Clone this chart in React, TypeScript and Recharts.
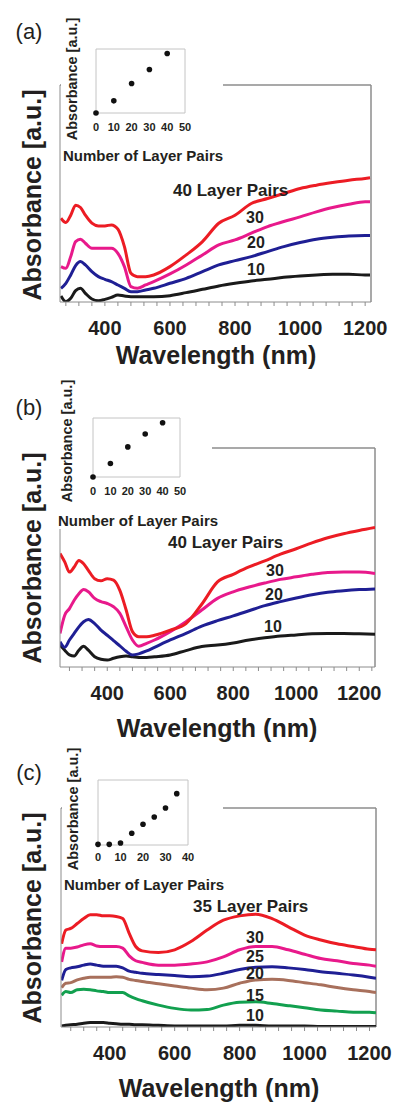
import {
  LineChart,
  Line,
  XAxis,
  YAxis,
  ReferenceLine,
  ReferenceArea,
  ScatterChart,
  Scatter,
} from "recharts"

const FONT = '"Liberation Sans", Arial, Helvetica, sans-serif'
const INK = "#231f20"
const AXIS = "#8c8c8c"

const RED = "#ec1c24"
const PINK = "#e8198b"
const BLUE = "#1f1f94"
const BLACK = "#1a1a1a"
const BROWN = "#a8705c"
const GREEN = "#12a04f"

// shared wavelength ticks (minor every 40 nm, labels every 200 nm)
const xTicks = [280, 320, 360, 400, 440, 480, 520, 560, 600, 640, 680, 720, 760, 800, 840, 880, 920, 960, 1000, 1040, 1080, 1120, 1160, 1200, 1240]

// ---- panel (a)
const wavelengthsA = [265, 280, 295, 310, 325, 340, 360, 380, 400, 420, 440, 460, 480, 500, 525, 550, 600, 650, 700, 750, 800, 850, 900, 950, 1000, 1050, 1100, 1150, 1200, 1215]
const a40 = [2.51, 2.38, 2.6, 2.9, 2.83, 2.6, 2.36, 2.28, 2.28, 2.31, 2.18, 1.66, 0.86, 0.76, 0.76, 0.81, 1.06, 1.41, 1.81, 2.36, 2.6, 2.95, 3.1, 3.25, 3.4, 3.5, 3.58, 3.65, 3.7, 3.72]
const a30 = [1.06, 1.01, 1.36, 1.81, 1.88, 1.76, 1.61, 1.61, 1.61, 1.61, 1.46, 1.06, 0.46, 0.41, 0.51, 0.61, 0.84, 1.11, 1.41, 1.71, 1.86, 2.06, 2.26, 2.41, 2.55, 2.7, 2.83, 2.93, 3.0, 3.0]
const a20 = [0.41, 0.56, 0.81, 1.09, 1.21, 1.11, 0.91, 0.76, 0.68, 0.61, 0.51, 0.41, 0.31, 0.31, 0.36, 0.41, 0.56, 0.71, 0.91, 1.11, 1.24, 1.36, 1.51, 1.66, 1.78, 1.88, 1.94, 1.98, 1.99, 1.99]
const a10 = [0.18, 0.01, 0.11, 0.34, 0.41, 0.26, 0.09, 0.04, 0.08, 0.14, 0.21, 0.18, 0.16, 0.16, 0.16, 0.16, 0.19, 0.28, 0.38, 0.48, 0.56, 0.63, 0.68, 0.74, 0.78, 0.81, 0.83, 0.83, 0.81, 0.81]
const insetPairsA = [0, 10, 20, 30, 40]
const insetAbsA = [0, 0.19, 0.46, 0.68, 0.93]

// ---- panel (b)
const wavelengthsB = [250, 265, 280, 295, 310, 325, 340, 360, 380, 400, 420, 440, 460, 480, 500, 525, 550, 600, 650, 700, 750, 800, 850, 900, 950, 1000, 1050, 1100, 1150, 1200, 1250]
const b40 = [3.11, 2.88, 2.6, 2.74, 2.92, 2.83, 2.65, 2.42, 2.36, 2.42, 2.38, 2.1, 1.56, 0.97, 0.83, 0.83, 0.87, 1.01, 1.19, 1.72, 2.33, 2.54, 2.74, 2.91, 3.09, 3.24, 3.4, 3.54, 3.65, 3.74, 3.82]
const b30 = [0.92, 1.42, 1.6, 1.83, 2.01, 2.12, 2.06, 1.88, 1.79, 1.74, 1.65, 1.47, 1.1, 0.74, 0.57, 0.65, 0.74, 0.97, 1.24, 1.56, 1.88, 2.06, 2.19, 2.3, 2.4, 2.47, 2.54, 2.59, 2.6, 2.6, 2.56]
const b20 = [0.69, 0.54, 0.74, 0.92, 1.1, 1.24, 1.3, 1.19, 1.01, 0.87, 0.72, 0.58, 0.43, 0.33, 0.36, 0.44, 0.54, 0.74, 0.92, 1.12, 1.27, 1.4, 1.54, 1.68, 1.79, 1.89, 1.98, 2.05, 2.09, 2.12, 2.14]
const b10 = [0.6, 0.46, 0.33, 0.3, 0.46, 0.57, 0.46, 0.28, 0.21, 0.19, 0.24, 0.28, 0.3, 0.28, 0.26, 0.26, 0.28, 0.33, 0.45, 0.56, 0.6, 0.66, 0.74, 0.8, 0.85, 0.88, 0.91, 0.92, 0.92, 0.91, 0.9]
const insetPairsB = [0, 10, 20, 30, 40]
const insetAbsB = [0, 0.23, 0.51, 0.73, 0.92]

// ---- panel (c)
const wavelengthsC = [252, 265, 280, 300, 320, 340, 360, 380, 400, 420, 440, 460, 480, 500, 550, 600, 650, 700, 750, 800, 850, 900, 950, 1000, 1050, 1100, 1150, 1200, 1220]
const c35 = [1.52, 1.77, 1.8, 1.89, 1.98, 2.05, 2.05, 2.03, 2.03, 2.02, 1.98, 1.71, 1.47, 1.39, 1.36, 1.41, 1.56, 1.77, 1.95, 2.03, 2.06, 1.98, 1.83, 1.68, 1.59, 1.52, 1.47, 1.42, 1.41]
const c30 = [1.19, 1.44, 1.44, 1.46, 1.5, 1.52, 1.48, 1.47, 1.47, 1.47, 1.44, 1.3, 1.21, 1.18, 1.13, 1.13, 1.15, 1.19, 1.28, 1.41, 1.47, 1.47, 1.41, 1.33, 1.25, 1.21, 1.16, 1.13, 1.11]
const c25 = [0.85, 1.05, 1.08, 1.1, 1.13, 1.15, 1.13, 1.11, 1.11, 1.11, 1.08, 1.02, 1.0, 0.98, 0.96, 0.94, 0.92, 0.93, 0.98, 1.05, 1.09, 1.1, 1.08, 1.05, 1.01, 0.98, 0.95, 0.91, 0.89]
const c20 = [0.72, 0.8, 0.81, 0.86, 0.89, 0.91, 0.91, 0.91, 0.91, 0.92, 0.91, 0.87, 0.85, 0.83, 0.79, 0.75, 0.71, 0.68, 0.71, 0.8, 0.86, 0.87, 0.85, 0.81, 0.77, 0.72, 0.68, 0.65, 0.63]
const c15 = [0.58, 0.65, 0.63, 0.68, 0.69, 0.68, 0.66, 0.65, 0.63, 0.63, 0.63, 0.57, 0.52, 0.48, 0.4, 0.34, 0.31, 0.32, 0.4, 0.45, 0.46, 0.43, 0.39, 0.35, 0.31, 0.29, 0.27, 0.27, 0.26]
const c10 = [0.02, 0.03, 0.04, 0.05, 0.07, 0.08, 0.08, 0.08, 0.07, 0.06, 0.05, 0.05, 0.04, 0.04, 0.03, 0.02, 0.02, 0.02, 0.02, 0.03, 0.03, 0.02, 0.02, 0.02, 0.01, 0.01, 0.01, 0.01, 0.01]
const insetPairsC = [0, 5, 10, 15, 20, 25, 30, 35]
const insetAbsC = [0.01, 0.01, 0.03, 0.18, 0.32, 0.43, 0.57, 0.79]

type Series = { key: string; values: number[]; color: string }
type Box = { left: number; top: number; right: number; bottom: number }

function MainChart(props: {
  plot: Box
  xDomain: [number, number]
  yMax: number
  yTicks: number[]
  wavelengths: number[]
  series: Series[]
}) {
  const { plot, xDomain, yMax, yTicks, wavelengths, series } = props
  const rows = wavelengths.map((wl, i) => {
    const row: Record<string, number> = { wl }
    series.forEach((s) => (row[s.key] = s.values[i]))
    return row
  })
  const padTop = 10
  const axisW = 10
  const axisH = 30
  const padBottom = 20
  const width = 396
  const height = padTop + (plot.bottom - plot.top) + axisH + padBottom
  const ticks = xTicks.filter((t) => t >= xDomain[0] && t <= xDomain[1])
  return (
    <div style={{ position: "absolute", left: 0, top: plot.top - padTop }}>
      <LineChart
        width={width}
        height={height}
        data={rows}
        margin={{ top: padTop, right: width - plot.right, bottom: padBottom, left: plot.left - axisW }}
      >
        <XAxis
          dataKey="wl"
          type="number"
          domain={xDomain}
          allowDataOverflow
          ticks={ticks}
          interval={0}
          height={axisH}
          tickSize={4}
          tickMargin={15}
          stroke={AXIS}
          tick={{ fill: INK, fontSize: 20, fontWeight: 700, fontFamily: FONT }}
          tickFormatter={(v: number) => (v % 200 === 0 ? String(v) : "")}
        />
        <YAxis
          type="number"
          domain={[0, yMax]}
          allowDataOverflow
          ticks={yTicks}
          interval={0}
          width={axisW}
          tick={false}
          tickSize={4}
          stroke={AXIS}
        />
        <ReferenceLine y={yMax} stroke={AXIS} strokeWidth={1.5} />
        <ReferenceLine x={xDomain[1]} stroke={AXIS} strokeWidth={1.5} />
        {series.map((s) => (
          <Line
            key={s.key}
            type="monotone"
            dataKey={s.key}
            stroke={s.color}
            strokeWidth={3}
            dot={false}
            isAnimationActive={false}
          />
        ))}
      </LineChart>
    </div>
  )
}

function Inset(props: { box: Box; xMax: number; ticks: number[]; pairs: number[]; values: number[]; gap: number }) {
  const { box, xMax, ticks, pairs, values, gap } = props
  const pad = 10
  const axisH = 24
  const data = pairs.map((n, i) => ({ n, a: values[i] }))
  return (
    <div style={{ position: "absolute", left: box.left - pad, top: box.top - pad }}>
      <ScatterChart
        width={box.right - box.left + 2 * pad}
        height={box.bottom - box.top + pad + axisH}
        margin={{ top: pad, right: pad, bottom: 0, left: pad }}
      >
        <XAxis
          type="number"
          dataKey="n"
          domain={[0, xMax]}
          ticks={ticks}
          interval={0}
          height={axisH}
          axisLine={false}
          tickLine={false}
          tickSize={0}
          tickMargin={gap}
          tick={{ fill: INK, fontSize: 11, fontWeight: 700, fontFamily: FONT }}
        />
        <YAxis type="number" dataKey="a" domain={[0, 1]} hide />
        <ReferenceArea x1={0} x2={xMax} y1={0} y2={1} stroke="#c4c4c4" fill="#ffffff" fillOpacity={0} />
        <Scatter
          data={data}
          fill="#111111"
          isAnimationActive={false}
          shape={(p: any) => <circle cx={p.cx} cy={p.cy} r={2.8} fill="#111111" />}
        />
      </ScatterChart>
    </div>
  )
}

function Txt(props: { x: number; y: number; size: number; text: string; bold?: boolean; left?: boolean; rotate?: boolean }) {
  const { x, y, size, text, bold = true, left = false, rotate = false } = props
  const shift = left ? "translate(0, -50%)" : "translate(-50%, -50%)"
  return (
    <div
      style={{
        position: "absolute",
        left: x,
        top: y,
        transform: shift + (rotate ? " rotate(-90deg)" : ""),
        fontSize: size,
        fontWeight: bold ? 700 : 400,
        fontFamily: FONT,
        color: INK,
        whiteSpace: "nowrap",
        lineHeight: 1,
      }}
    >
      {text}
    </div>
  )
}

function Cover(props: { x: number; y: number; w: number; h: number }) {
  return (
    <div style={{ position: "absolute", left: props.x, top: props.y, width: props.w, height: props.h, background: "#fff" }} />
  )
}

export default function App() {
  return (
    <div style={{ position: "absolute", left: 0, top: 0, width: 396, height: 1102, background: "#fff", overflow: "hidden" }}>
      {/* (a) */}
      <MainChart
        plot={{ left: 60, top: 85, right: 371, bottom: 302 }}
        xDomain={[262, 1218]}
        yMax={6.5}
        yTicks={[0, 1, 2, 3, 4, 5, 6]}
        wavelengths={wavelengthsA}
        series={[
          { key: "p10", values: a10, color: BLACK },
          { key: "p20", values: a20, color: BLUE },
          { key: "p30", values: a30, color: PINK },
          { key: "p40", values: a40, color: RED },
        ]}
      />
      <Cover x={61} y={40} w={162} h={56} />
      <Inset box={{ left: 96, top: 49, right: 185, bottom: 113 }} xMax={50} ticks={[0, 10, 20, 30, 40, 50]} pairs={insetPairsA} values={insetAbsA} gap={10} />
      <Txt x={29} y={32} size={22} bold={false} text="(a)" />
      <Txt x={32} y={195} size={25} rotate text="Absorbance [a.u.]" />
      <Txt x={216} y={355} size={25} text="Wavelength (nm)" />
      <Txt x={72} y={79} size={14.5} rotate text="Absorbance [a.u.]" />
      <Txt x={63} y={155} size={15} left text="Number of Layer Pairs" />
      <Txt x={173} y={190} size={17} left text="40 Layer Pairs" />
      <Txt x={255} y={218} size={16} text="30" />
      <Txt x={256} y={243} size={16} text="20" />
      <Txt x={256} y={270} size={16} text="10" />

      {/* (b) */}
      <MainChart
        plot={{ left: 60, top: 448, right: 375, bottom: 667 }}
        xDomain={[250, 1250]}
        yMax={6}
        yTicks={[0, 1, 2, 3, 4, 5, 6]}
        wavelengths={wavelengthsB}
        series={[
          { key: "p10", values: b10, color: BLACK },
          { key: "p20", values: b20, color: BLUE },
          { key: "p30", values: b30, color: PINK },
          { key: "p40", values: b40, color: RED },
        ]}
      />
      <Cover x={50} y={380} w={162} h={149} />
      <Inset box={{ left: 93, top: 418, right: 180, bottom: 477 }} xMax={50} ticks={[0, 10, 20, 30, 40, 50]} pairs={insetPairsB} values={insetAbsB} gap={10} />
      <Txt x={29} y={408} size={22} bold={false} text="(b)" />
      <Txt x={32} y={558} size={25} rotate text="Absorbance [a.u.]" />
      <Txt x={217} y={728} size={25} text="Wavelength (nm)" />
      <Txt x={67} y={441} size={14.5} rotate text="Absorbance [a.u.]" />
      <Txt x={58} y={520} size={15} left text="Number of Layer Pairs" />
      <Txt x={168} y={542} size={17} left text="40 Layer Pairs" />
      <Txt x={275} y={571} size={16} text="30" />
      <Txt x={274} y={595} size={16} text="20" />
      <Txt x={273} y={627} size={16} text="10" />

      {/* (c) */}
      <MainChart
        plot={{ left: 61, top: 808, right: 376, bottom: 1027 }}
        xDomain={[250, 1220]}
        yMax={4}
        yTicks={[0, 1, 2, 3, 4]}
        wavelengths={wavelengthsC}
        series={[
          { key: "p10", values: c10, color: BLACK },
          { key: "p15", values: c15, color: GREEN },
          { key: "p20", values: c20, color: BROWN },
          { key: "p25", values: c25, color: BLUE },
          { key: "p30", values: c30, color: PINK },
          { key: "p35", values: c35, color: RED },
        ]}
      />
      <Cover x={62} y={770} w={161} h={50} />
      <Inset box={{ left: 98, top: 780, right: 188, bottom: 845 }} xMax={40} ticks={[0, 10, 20, 30, 40]} pairs={insetPairsC} values={insetAbsC} gap={8} />
      <Txt x={29} y={773} size={22} bold={false} text="(c)" />
      <Txt x={32} y={918} size={25} rotate text="Absorbance [a.u.]" />
      <Txt x={219} y={1088} size={25} text="Wavelength (nm)" />
      <Txt x={73} y={809} size={14.5} rotate text="Absorbance [a.u.]" />
      <Txt x={64} y={884} size={15} left text="Number of Layer Pairs" />
      <Txt x={193} y={906} size={17} left text="35 Layer Pairs" />
      <Txt x={255} y={938} size={16} text="30" />
      <Txt x={255} y={957} size={16} text="25" />
      <Txt x={255} y={974} size={16} text="20" />
      <Txt x={255} y={996} size={16} text="15" />
      <Txt x={255} y={1016} size={16} text="10" />
    </div>
  )
}
